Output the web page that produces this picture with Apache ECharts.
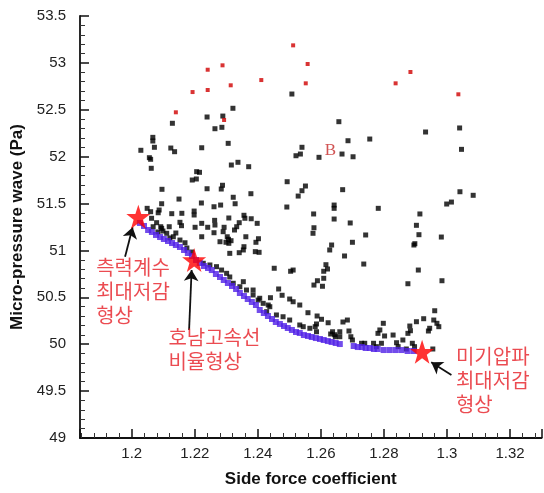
<!DOCTYPE html>
<html><head><meta charset="utf-8">
<script src="https://cdn.jsdelivr.net/npm/echarts@6/dist/echarts.min.js"></script>
<style>html,body{margin:0;padding:0;background:#fff}#c{width:544px;height:493px}</style>
</head><body><div id="c"></div>
<script>
// ---- data ----
const xTickLabels = ['1.2','1.22','1.24','1.26','1.28','1.3','1.32'];
const yTickLabels = ['49','49.5','50','50.5','51','51.5','52','52.5','53','53.5'];

const redPoints = [
 [1.2140,52.473],[1.2193,52.689],[1.2241,52.927],[1.2241,52.711],[1.2288,52.974],[1.2293,52.391],
 [1.2314,52.761],[1.2411,52.817],[1.2512,53.187],[1.2552,52.782],[1.2558,52.988],[1.2837,52.782],
 [1.2884,52.903],[1.3036,52.665]
];

const bluePoints = [
 [1.2026,51.293],[1.2039,51.261],[1.2052,51.218],[1.2064,51.197],[1.2077,51.165],[1.2090,51.143],
 [1.2102,51.122],[1.2115,51.101],[1.2128,51.079],[1.2140,51.058],[1.2153,51.037],[1.2166,51.005],
 [1.2178,50.973],[1.2191,50.941],[1.2204,50.898],[1.2216,50.866],[1.2229,50.834],[1.2242,50.813],
 [1.2254,50.791],[1.2267,50.749],[1.2280,50.717],[1.2292,50.685],[1.2305,50.653],[1.2318,50.621],
 [1.2331,50.589],[1.2343,50.546],[1.2356,50.514],[1.2368,50.482],[1.2381,50.450],[1.2394,50.418],
 [1.2406,50.365],[1.2419,50.333],[1.2432,50.301],[1.2445,50.269],[1.2457,50.237],[1.2470,50.216],
 [1.2483,50.194],[1.2495,50.173],[1.2508,50.152],[1.2521,50.130],[1.2533,50.120],[1.2546,50.098],
 [1.2559,50.088],[1.2571,50.077],[1.2584,50.066],[1.2597,50.056],[1.2609,50.045],[1.2622,50.034],
 [1.2634,50.024],[1.2647,50.013],[1.2660,50.002],
 [1.2704,49.981],[1.2717,49.970],[1.2730,49.970],[1.2742,49.960],[1.2755,49.960],[1.2768,49.949],
 [1.2780,49.949],[1.2799,49.938],[1.2818,49.938],[1.2837,49.938],[1.2856,49.938],[1.2875,49.928],
 [1.2894,49.928]
];

const blackPoints = [
 [1.2508,52.668],[1.2321,52.516],[1.2239,52.423],[1.2289,52.433],[1.2129,52.356],[1.2264,52.298],
 [1.2286,52.313],[1.2306,52.142],[1.2067,52.206],[1.2067,52.167],[1.2029,52.068],[1.2072,52.100],
 [1.2124,52.092],[1.2136,52.053],[1.2222,52.095],[1.2056,51.989],[1.2060,51.972],[1.2062,51.876],
 [1.2540,52.100],[1.2521,52.010],[1.2535,52.028],[1.2316,51.911],[1.2337,51.940],[1.2371,51.893],
 [1.2206,51.840],[1.2215,51.833],[1.2192,51.751],[1.2205,51.762],[1.2096,51.652],[1.2239,51.658],
 [1.2288,51.695],[1.2284,51.655],[1.2378,51.605],[1.2493,51.733],[1.2551,51.687],[1.2540,51.637],
 [1.2528,51.580],[1.2322,51.567],[1.2150,51.548],[1.2594,51.993],[1.2221,51.506],[1.2261,51.466],
 [1.2282,51.484],[1.2328,51.498],[1.2492,51.463],[1.2095,51.498],[1.2087,51.431],[1.2084,51.402],
 [1.2049,51.449],[1.2060,51.413],[1.2127,51.392],[1.2159,51.396],[1.2198,51.420],[1.2198,51.378],
 [1.2263,51.321],[1.2308,51.346],[1.2356,51.375],[1.2359,51.343],[1.2341,51.296],[1.2379,51.338],
 [1.2577,51.389],[1.2079,51.296],[1.2068,51.253],[1.2092,51.253],[1.2119,51.253],[1.2153,51.300],
 [1.2158,51.264],[1.2201,51.247],[1.2241,51.247],[1.2293,51.247],
 [1.2657,52.373],[1.2686,52.170],[1.2755,52.188],[1.2667,52.028],[1.2702,51.999],[1.2932,52.263],
 [1.3040,52.306],[1.3046,52.078],[1.3041,51.626],[1.3083,51.588],[1.2999,51.495],[1.3014,51.516],
 [1.2669,51.648],[1.2642,51.484],[1.2642,51.449],[1.2642,51.335],[1.2693,51.293],[1.2782,51.449],
 [1.2914,51.389],[1.2903,51.268],[1.2578,51.242],[1.2911,51.168],[1.2982,51.143],[1.2898,51.072],
 [1.2895,51.058],[1.2909,50.791],[1.2876,50.645],[1.2984,50.677],
 [1.2394,51.087],[1.2404,50.980],[1.2742,51.165],[1.2700,51.087],[1.2634,51.058],[1.2628,51.005],
 [1.2675,50.941],[1.2736,50.855],[1.2452,50.810],[1.2504,50.778],[1.2512,50.791],[1.2616,50.848],
 [1.2621,50.802],[1.2609,50.778],[1.2609,50.703],[1.2589,50.677],[1.2578,50.631],[1.2605,50.618],
 [1.2466,50.589],[1.2477,50.522],[1.2501,50.482],[1.2440,50.496],
 [1.2222,51.146],[1.2261,51.189],[1.2303,51.146],[1.2307,51.119],[1.2299,51.087],[1.2308,51.076],
 [1.2315,51.104],[1.2326,51.218],[1.2362,51.146],[1.2398,51.289],[1.2402,51.125],[1.2356,51.040],
 [1.2341,50.976],[1.2392,50.987],[1.2280,51.093],[1.2311,50.969],[1.2354,51.005],[1.2264,51.271],
 [1.2222,51.289],[1.2333,51.253],[1.2290,51.200],[1.2575,51.183],
 [1.2063,51.343],[1.2095,51.236],[1.2111,51.183],[1.2132,51.146],[1.2153,51.111],[1.2169,51.082],
 [1.2140,51.186],[1.2099,51.207],[1.2175,51.026],[1.2191,50.983],[1.2121,51.133],[1.2083,51.197],
 [1.2227,50.863],[1.2248,50.845],[1.2269,50.827],[1.2285,50.791],[1.2301,50.756],[1.2311,50.717],
 [1.2322,50.650],[1.2343,50.613],[1.2364,50.578],[1.2385,50.525],[1.2401,50.471],[1.2417,50.436],
 [1.2438,50.400],[1.2459,50.312],[1.2480,50.293],[1.2501,50.258],[1.2533,50.205],[1.2565,50.170],
 [1.2586,50.133],[1.2354,50.667],[1.2385,50.578],[1.2406,50.490],[1.2433,50.418],[1.2428,50.347],
 [1.2512,50.453],[1.2533,50.418],[1.2559,50.336],[1.2588,50.301],[1.2602,50.266],[1.2586,50.216],
 [1.2544,50.187],[1.2582,50.187],[1.2623,50.229],[1.2637,50.133],[1.2631,50.109],[1.2644,50.101],
 [1.2646,50.080],[1.2660,50.133],[1.2670,50.237],[1.2684,50.258],[1.2689,50.141],[1.2695,50.080],
 [1.2700,50.045],[1.2729,50.010],[1.2767,50.010],[1.2776,49.974],[1.2787,50.152],[1.2798,50.223],
 [1.2781,50.116],[1.2802,50.088],[1.2829,50.098],[1.2840,50.016],[1.2845,49.974],[1.2882,50.194],
 [1.2884,50.144],[1.2903,50.240],[1.2926,50.272],[1.2890,50.010],[1.2897,49.974],[1.2961,50.357],
 [1.2958,50.258],[1.2968,50.223],[1.2974,50.187],[1.2941,50.141],[1.2945,50.170],[1.2955,49.949],
 [1.2860,50.045],[1.2876,50.116],[1.2739,50.010],[1.2792,50.010],[1.2871,49.949],[1.2660,50.080]
];

const starPoints = [[1.2021,51.36],[1.2198,50.898],[1.2921,49.92]];

const annoTexts = ['측력계수\n최대저감\n형상', '호남고속선\n비율형상', '미기압파\n최대저감\n형상'];
const annoAnchors = [[1.1889,50.940],[1.2118,50.194],[1.3030,49.995]];
const arrowTails = [[1.1979,50.933],[1.2182,50.152],[1.3014,49.672]];
const arrowTips  = [[1.2003,51.247],[1.2190,50.791],[1.2950,49.807]];
const letterB = {text:'B', at:[1.2630,52.063]};

// ---- chart ----
const chart = echarts.init(document.getElementById('c'), null, {renderer:'canvas'});
const STAR = 'path://M50,0 L61.8,35.1 L98.1,35.1 L68.8,56.8 L79.4,91.0 L50,70 L20.6,91.0 L31.2,56.8 L1.9,35.1 L38.2,35.1 Z';
const FONT = '"Liberation Sans", Arial, Helvetica, sans-serif';
const isMult = (v, step) => Math.abs(v/step - Math.round(v/step)) < 1e-6;
const CLEAR = 'rgba(0,0,0,0)';

chart.setOption({
  animation: false,
  backgroundColor: '#ffffff',
  grid: {left: 80, top: 16, right: 2.4, bottom: 55, containLabel: false},
  xAxis: {
    type: 'value', min: 1.1836, max: 1.33, splitNumber: 7, minInterval: 0.02, maxInterval: 0.02,
    name: 'Side force coefficient', nameLocation: 'middle', nameGap: 33,
    nameTextStyle: {fontFamily: FONT, fontSize: 17, fontWeight: 'bold', color: '#111'},
    axisLine: {show: true, lineStyle: {color: '#111', width: 1.8}},
    axisTick: {show: true, inside: true, length: 9, lineStyle: {color: '#111', width: 1.5}},
    minorTick: {show: true, splitNumber: 5, length: 5, lineStyle: {color: '#333', width: 1}},
    splitLine: {show: false},
    axisLabel: {show: true, margin: 8, fontFamily: FONT, fontSize: 15, color: '#222',
      showMinLabel: false, showMaxLabel: false,
      formatter: v => isMult(v, 0.02) && xTickLabels.indexOf(String(+v.toFixed(2))) >= 0 ? String(+v.toFixed(2)) : ''}
  },
  yAxis: {
    type: 'value', min: 49, max: 53.5, interval: 0.5,
    name: 'Micro-pressure wave (Pa)', nameLocation: 'middle', nameGap: 48,
    nameTextStyle: {fontFamily: FONT, fontSize: 17, fontWeight: 'bold', color: '#111'},
    axisLine: {show: true, lineStyle: {color: '#111', width: 1.8}},
    axisTick: {show: true, inside: true, length: 9, lineStyle: {color: '#111', width: 1.5}},
    minorTick: {show: true, splitNumber: 5, length: 5, lineStyle: {color: '#333', width: 1}},
    splitLine: {show: false},
    axisLabel: {show: true, margin: 14, fontFamily: FONT, fontSize: 15, color: '#222',
      formatter: v => { const s = String(+v.toFixed(1)); return yTickLabels.indexOf(s) >= 0 ? s : ''; }}
  },
  series: [
    {type: 'scatter', name: 'black', data: blackPoints, symbol: 'rect', symbolSize: 5,
     itemStyle: {color: '#000'}, z: 2},
    {type: 'scatter', name: 'blue', data: bluePoints, symbol: 'rect', symbolSize: 6,
     itemStyle: {color: '#4f1fe6'}, z: 3},
    {type: 'scatter', name: 'red', data: redPoints, symbol: 'rect', symbolSize: 4,
     itemStyle: {color: '#d00000'}, z: 3},
    {type: 'lines', coordinateSystem: 'cartesian2d', z: 4,
     data: arrowTails.map((t, i) => ({coords: [t, arrowTips[i]]})),
     symbol: ['none', 'arrow'], symbolSize: [0, 11],
     lineStyle: {color: '#111', width: 1.8, opacity: 1, curveness: 0}},
    {type: 'scatter', name: 'stars', data: starPoints, symbol: STAR, symbolSize: 24,
     itemStyle: {color: '#ff0000'}, z: 5},
    {type: 'scatter', name: 'anno', z: 6, symbolSize: 1, silent: true,
     itemStyle: {color: CLEAR},
     data: annoAnchors.map((p, i) => ({value: p, label: {formatter: annoTexts[i]}})),
     label: {show: true, position: [0, 0], align: 'left', verticalAlign: 'top',
       fontFamily: '"Noto Sans CJK KR", sans-serif', fontSize: 20, lineHeight: 24, color: '#e61e25'}},
    {type: 'scatter', name: 'B', z: 6, symbolSize: 1, silent: true,
     itemStyle: {color: CLEAR},
     data: [letterB.at],
     label: {show: true, position: 'inside', formatter: letterB.text,
       fontFamily: '"Liberation Serif", "DejaVu Serif", serif', fontSize: 17, color: '#c62828'}}
  ]
});
</script>
</body></html>
